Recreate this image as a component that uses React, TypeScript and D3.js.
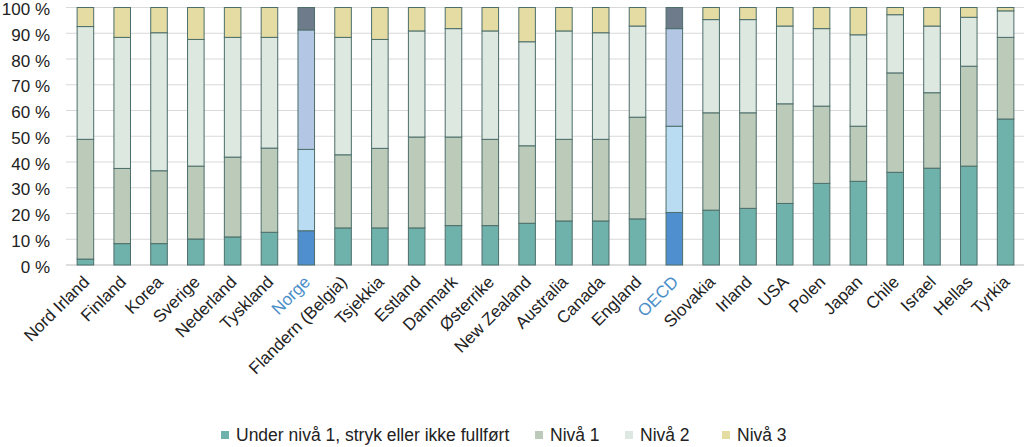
import React from "react";
import * as d3 from "d3";

const categories = ["Nord Irland","Finland","Korea","Sverige","Nederland","Tyskland","Norge","Flandern (Belgia)","Tsjekkia","Estland","Danmark","Østerrike","New Zealand","Australia","Canada","England","OECD","Slovakia","Irland","USA","Polen","Japan","Chile","Israel","Hellas","Tyrkia"];
// segment values (%)
const underNiva1 = [2.3,8.3,8.3,10.1,10.9,12.7,13.3,14.4,14.4,14.4,15.3,15.3,16.2,17.1,17.1,17.9,20.4,21.3,22.0,23.9,31.7,32.5,36.0,37.6,38.4,56.7];
const niva1 = [46.5,29.2,28.3,28.3,31.0,32.7,31.6,28.4,30.9,35.3,34.4,33.5,30.1,31.7,31.7,39.5,33.5,37.8,37.1,38.7,30.0,21.4,38.6,29.3,38.8,31.7];
const niva2 = [43.8,50.9,53.6,49.2,46.5,43.0,46.4,45.6,42.3,41.2,42.1,42.1,40.4,42.1,41.4,35.4,37.9,36.2,36.2,30.2,30.1,35.5,22.6,25.9,19.0,10.3];
const niva3 = [7.4,11.6,9.8,12.4,11.6,11.6,8.7,11.6,12.4,9.1,8.2,9.1,13.3,9.1,9.8,7.2,8.2,4.7,4.7,7.2,8.2,10.6,2.8,7.2,3.8,1.3];
const seriesNames = ["Under nivå 1, stryk eller ikke fullført","Nivå 1","Nivå 2","Nivå 3"];
const yTicks = [0,10,20,30,40,50,60,70,80,90,100];
const highlighted = ["Norge","OECD"];

const normalColors = ["#6fb1ab","#bccbb9","#dde8e1","#e5dca3"];
const highlightColors = ["#4f8fcf","#b9dcf2","#b3c7e4","#6e7b8b"];

const W = 1024, H = 447;
const M = { left: 67, right: 1024, top: 7.5, bottom: 265 };
const FONT = "'Liberation Sans', Arial, sans-serif";

export default function App() {
  const x = d3.scaleBand<string>().domain(categories).range([M.left, M.right]).paddingInner(0.55).paddingOuter(0.275);
  const y = d3.scaleLinear().domain([0, 100]).range([M.bottom, M.top]);
  const rows = categories.map((c, i) => ({ cat: c, s0: underNiva1[i], s1: niva1[i], s2: niva2[i], s3: niva3[i] }));
  const stack = d3.stack<any>().keys(["s0","s1","s2","s3"]);
  const layers = stack(rows);

  const legendX = [221, 535, 625, 722];

  return (
    <div style={{ position: "absolute", left: 0, top: 0 }}>
      <svg width={W} height={H} style={{ display: "block", fontFamily: FONT }}>
        <rect width={W} height={H} fill="#fff" />
        {yTicks.map(t => (
          <g key={t}>
            <line x1={M.left - 1} x2={M.right} y1={y(t)} y2={y(t)} stroke={t === 0 ? "#bdbdbd" : "#d9d9d9"} strokeWidth={1} />
            <text x={50} y={y(t)} dy="0.45em" textAnchor="end" fontSize={17} fill="#222">{t} %</text>
          </g>
        ))}
        {layers.map((layer, li) => (
          <g key={li}>
            {layer.map((d, i) => {
              const cat = categories[i];
              const hl = highlighted.includes(cat);
              const top = li === 3 ? 100 : d[1];
              return (
                <rect key={cat}
                  x={x(cat)!} width={x.bandwidth()}
                  y={y(top)} height={y(d[0]) - y(top)}
                  fill={hl ? highlightColors[li] : normalColors[li]}
                  stroke="#4d6e6a" strokeWidth={1} />
              );
            })}
          </g>
        ))}
        {categories.map(c => {
          const cx = x(c)! + x.bandwidth() / 2;
          return (
            <text key={c} transform={`translate(${cx + 5},${283}) rotate(-45)`} textAnchor="end" fontSize={17}
              fill={highlighted.includes(c) ? "#4a8ec8" : "#222"}>{c}</text>
          );
        })}
        {seriesNames.map((s, i) => (
          <g key={s} transform={`translate(${legendX[i]},435)`}>
            <rect x={0} y={-4} width={8} height={8} fill={normalColors[i]} />
            <text x={15} y={0} dy="0.35em" fontSize={17.5} fill="#222">{s}</text>
          </g>
        ))}
      </svg>
    </div>
  );
}
